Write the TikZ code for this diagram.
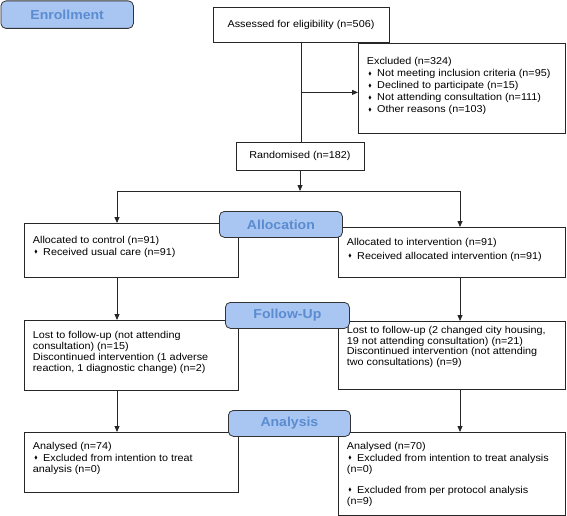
\documentclass[tikz,border=0pt]{standalone}
\usepackage{amssymb}
\usepackage{fontspec}
\setmainfont{Liberation Sans}[FakeStretch=1.08]
\usetikzlibrary{arrows.meta}
\definecolor{phasefill}{HTML}{A9C5F2}
\definecolor{phasetext}{HTML}{5A8CCF}
\newcommand{\dia}{\hspace{1.5pt}\raisebox{0.35ex}{\scalebox{0.5}{$\blacklozenge$}}\hspace{5.5pt}}
\newcommand{\boxtext}[4]{\parbox[t][#2][t]{#1}{\raggedright\vspace*{#3}\strut #4}}
\tikzset{
  flowbox/.style={draw=black!85, line width=0.8pt, anchor=north west, inner xsep=8.5pt, inner ysep=0pt, font=\fontsize{10}{12}\selectfont},
  phase/.style={draw=black!80, line width=0.8pt, rounded corners=5pt, fill=phasefill, text=phasetext, font=\fontsize{13}{15}\selectfont\bfseries, inner sep=0pt, anchor=north west},
  flowarrow/.style={-{Triangle[length=6pt,width=5pt]}, line width=0.8pt, draw=black!85},
  flowline/.style={line width=0.8pt, draw=black!85}
}

\begin{document}
\begin{tikzpicture}[x=1pt, y=-1pt]
\useasboundingbox (0,0) rectangle (567,516);
\node[flowbox, anchor=center, minimum width=176, minimum height=35] (assess) at (301,24.5) {Assessed for eligibility (n=506)};
\node[flowbox] (excl) at (358,43) {\boxtext{190pt}{90pt}{13.2pt}{Excluded (n=324)\\ \dia Not meeting inclusion criteria (n=95)\\ \dia Declined to participate (n=15)\\ \dia Not attending consultation (n=111)\\ \dia Other reasons (n=103)}};
\node[flowbox, anchor=center, minimum width=128, minimum height=28] (rand) at (300,156) {Randomised (n=182)};
\coordinate (split) at (300,191);
\coordinate (lcol) at (117,191);
\coordinate (rcol) at (460,191);
\node[flowbox] (ctrl) at (24,223) {\boxtext{197pt}{54pt}{11.2pt}{Allocated to control (n=91)\\ \dia Received usual care (n=91)}};
\node[flowbox] (intv) at (338,227) {\boxtext{210pt}{50pt}{9.2pt}{Allocated to intervention (n=91)\\[2pt] \dia Received allocated intervention (n=91)}};
\node[flowbox, font=\fontsize{10}{10.8}\selectfont] (lostc) at (24,320) {\boxtext{197pt}{70pt}{11pt}{Lost to follow-up (not attending\\ consultation) (n=15)\\ Discontinued intervention (1 adverse\\ reaction, 1 diagnostic change) (n=2)}};
\node[flowbox, font=\fontsize{10}{10.8}\selectfont] (losti) at (338,321) {\boxtext{210pt}{68pt}{4.3pt}{Lost to follow-up (2 changed city housing,\\ 19 not attending consultation) (n=21)\\ Discontinued intervention (not attending\\ two consultations) (n=9)}};
\node[flowbox, font=\fontsize{10}{11.5}\selectfont] (anac) at (24,432) {\boxtext{197pt}{60pt}{9.2pt}{Analysed (n=74)\\ \dia Excluded from intention to treat\\ analysis (n=0)}};
\node[flowbox, font=\fontsize{10}{11.5}\selectfont] (anai) at (338,432) {\boxtext{210pt}{83pt}{9.2pt}{Analysed (n=70)\\ \dia Excluded from intention to treat analysis\\ (n=0)\\[9pt] \dia Excluded from per protocol analysis\\ (n=9)}};
\draw[flowline] (assess.south) -- (assess.south |- rand.north);
\draw[flowarrow] (assess.south |- excl.west) ++(0,4) -- ([yshift=-4pt]excl.west);
\draw[flowarrow] (rand.south) -- (split);
\draw[flowarrow] (split) -- (lcol) -- (lcol |- ctrl.north);
\draw[flowarrow] (split) -- (rcol) -- (rcol |- intv.north);
\draw[flowarrow] (lcol |- ctrl.south) -- (lcol |- lostc.north);
\draw[flowarrow] (rcol |- intv.south) -- (rcol |- losti.north);
\draw[flowarrow] (lcol |- lostc.south) -- (lcol |- anac.north);
\draw[flowarrow] (rcol |- losti.south) -- (rcol |- anai.north);
\node[phase, minimum width=132.5, minimum height=27.5] (enrol) at (0.5,0.5) {Enrollment};
\node[phase, minimum width=123, minimum height=26] (alloc) at (219,211) {Allocation};
\node[phase, minimum width=124, minimum height=26] (follow) at (225,302) {Follow-Up};
\node[phase, minimum width=122, minimum height=26] (anal) at (228,410) {Analysis};
\end{tikzpicture}
\end{document}
